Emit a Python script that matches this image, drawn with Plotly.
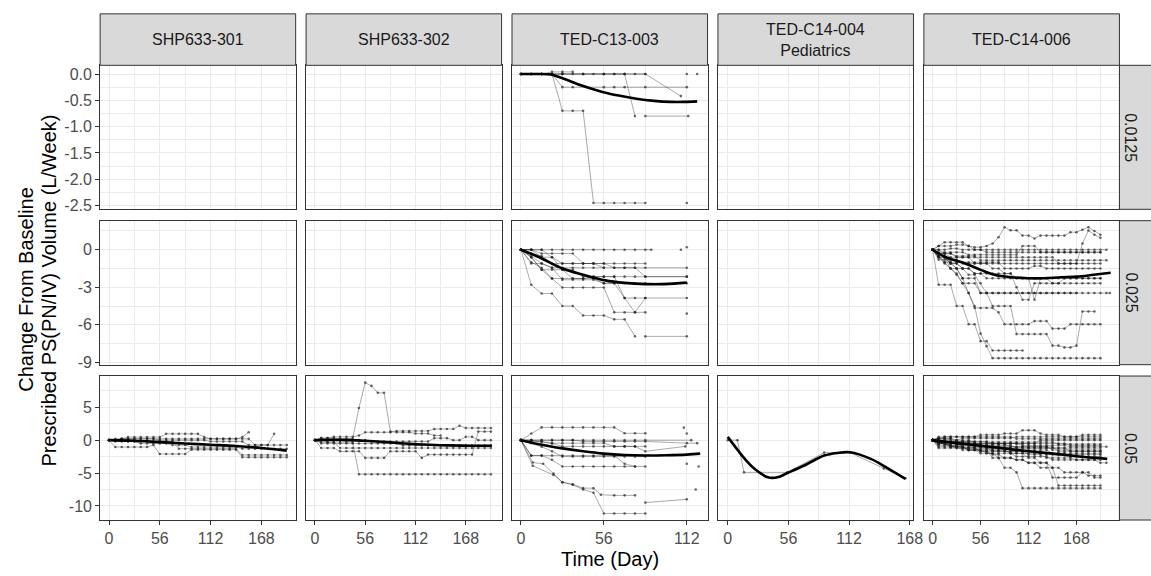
import plotly.graph_objects as go

W, H = 1151, 576

# ---------------- labels / ticks ----------------
STUDIES = ["SHP633-301", "SHP633-302", "TED-C13-003", "TED-C14-004<br>Pediatrics", "TED-C14-006"]
DOSES = ["0.0125", "0.025", "0.05"]
X_TITLE = "Time (Day)"
Y_TITLE_1 = "Change From Baseline"
Y_TITLE_2 = "Prescribed PS(PN/IV) Volume (L/Week)"

X_TICKS = [0, 56, 112, 168]
X_TICK_TEXT = ["0", "56", "112", "168"]
X_MINOR = [28, 84, 140, 196]
Y_TICKS = [[0.0, -0.5, -1.0, -1.5, -2.0, -2.5], [0, -3, -6, -9], [5, 0, -5, -10]]
Y_TICK_TEXT = [["0.0", "-0.5", "-1.0", "-1.5", "-2.0", "-2.5"], ["0", "-3", "-6", "-9"], ["5", "0", "-5", "-10"]]
Y_MINOR = [[-0.25, -0.75, -1.25, -1.75, -2.25], [1.5, -1.5, -4.5, -7.5], [7.5, 2.5, -2.5, -7.5]]

X_RANGES = [[-9.8, 205.8], [-9.9, 207.9], [-6.0, 126.0], [-9.0, 171.4], [-10.2, 218.2]]
Y_RANGES = [[-2.57, 0.165], [-9.18, 2.32], [-12.15, 9.75]]

# visit schedules (days)
WK = [0, 7, 14, 21, 28, 35, 42, 49, 56, 63, 70, 77, 84, 91, 98, 105, 112, 119, 126, 133,
      140, 147, 154, 161, 168, 175, 182, 189, 196]
D84 = [0, 7, 14, 21, 28, 35, 42, 49, 56, 63, 70, 77, 84]

# ---------------- TED-C13-003, 0.0125 ----------------
A_SUBJ = [
    (D84, [0, 0, 0, 0, 0, 0, 0, 0, 0, 0, 0, 0, 0]),
    (D84, [0, 0, 0, 0.04, 0.04, 0.04]),
    ([0, 7, 14, 21, 28, 35, 56, 63, 70, 84, 112], [0, 0, 0, 0, -0.25, -0.25, -0.25, -0.25, -0.25, -0.25, -0.25]),
    (D84, [0, 0, 0, 0, -0.7, -0.7, -0.7, -2.45, -2.45, -2.45, -2.45, -2.45, -2.45]),
    ([112], [-2.45]),
    ([0, 14, 28, 42, 56, 63, 70, 77], [0, 0, 0, 0, 0, 0, 0, -0.8]),
    ([84, 113], [-0.8, -0.8]),
    ([0, 14, 28, 42, 56, 70, 84, 108], [0, 0, 0, 0, 0, 0, 0, -0.42]),
    ([112], [0]),
    ([119], [0]),
]
A_SM_D = [0, 10, 20, 30, 41, 55, 66, 78, 90, 101, 110, 119]
A_SM_V = [0, 0, -0.01, -0.1, -0.22, -0.34, -0.41, -0.47, -0.51, -0.53, -0.53, -0.52]

# ---------------- TED-C13-003, 0.025 ----------------
B_SUBJ = [
    (D84 + [88], [0, 0, 0, 0, 0, 0, 0, 0, 0, 0, 0, 0, 0, 0]),
    (D84 + [112], [0, -1.1, -1.1, -1.44, -1.44, -1.44, -1.44, -1.44, -1.44, -1.44, -1.44, -1.44, -1.44, -1.44]),
    (D84 + [112], [0, -0.6, -1.6, -1.6, -1.6, -2.3, -2.3, -2.15, -2.15, -2.15, -2.15, -2.15, -2.15, -2.15]),
    (D84 + [112], [0, -0.5, -1.1, -1.44, -2.4, -2.4, -2.4, -2.4, -2.68, -2.68, -2.68, -2.68, -2.68, -2.68]),
    (D84 + [112], [0, -0.3, -0.5, -1.1, -1.1, -1.1, -1.1, -1.1, -1.1, -1.44, -1.44, -1.44, -2.15, -2.15]),
    (D84, [0, -2.8, -3.5, -3.5, -4.5, -4.5, -5.25, -5.25, -5.25, -5.56, -5.56, -6.92]),
    ([84, 112], [-6.92, -6.92]),
    (D84, [0, -0.6, -1.6, -2.3, -3.02, -3.02, -3.02, -3.02, -3.02, -5.0, -5.0, -5.0, -3.86]),
    (D84 + [112], [0, -1.0, -1.44, -2.3, -2.3, -2.3, -2.3, -2.3, -2.68, -2.68, -3.86, -3.86, -3.86, -3.86]),
    (D84, [0, 0, 0, -0.6, -1.1, -1.1, -1.1, -1.1, -1.44]),
    (D84, [0, 0, -0.6, -0.6, -1.6, -1.6, -2.15, -2.15, -2.15, -2.15, -3.86, -5.0, -5.0]),
    (D84, [0, 0, -0.3, -0.3, -0.3, -0.3, -1.1, -1.1, -1.1, -1.1, -1.1, -1.1, -1.1]),
    ([108], [0]),
    ([112], [0.2]),
    ([112], [-5.1]),
]
B_SM_D = [0, 12, 28, 42, 57, 70, 84, 97, 112]
B_SM_V = [0, -0.58, -1.5, -2.0, -2.45, -2.65, -2.75, -2.75, -2.63]

# ---------------- TED-C14-006, 0.025 ----------------
C_SUBJ = [
    (WK, [0, 0.3, 0.3, 0.3, 0.4, 0.4, 0.3, 0.2, 0.2, 0.3, 0.5, 1.0, 1.8, 1.55, 1.55, 1.13, 1.13, 0.9, 1.13, 1.13,
          1.13, 1.13, 1.13, 1.4, 1.4, 1.6, 1.8, 1.5, 1.2]),
    (WK, [0, -0.3, -0.3, -0.6, -0.6, -0.6, -0.6, -0.6, -0.6, -0.6, -0.6, -0.6, -0.6, -0.6, -0.6, -0.6, -0.6, -0.6,
          -0.6, -0.6, -0.6, -1.1, -1.1, -1.1, -1.1, 0.5, 1.53, 1.2, 0.95]),
    (WK + [203], [0, 0, 0, 0.1, 0.1, 0, 0, 0, 0, 0, 0, 0, 0, 0, 0, 0, 0, 0, 0, 0, 0, 0, 0, 0, 0, 0, 0, 0, 0, 0]),
    (WK, [0, 0.3, 0.6, 0.6, 0.6, 0.6, 0.3, 0, 0, -0.2, -0.2, -0.2, -0.2, -0.2, -0.2, -0.2, -0.2, -0.2, -0.2, -0.2,
          -0.2, -0.2, -0.2, -0.2, -0.2, -0.2, -0.2, -0.2, -0.2]),
    (WK + [203], [0, -0.3, -0.3, -0.3, -0.5, -0.5, -0.5, -0.5, -0.84, -0.84, -0.84, -0.84, -0.84, -0.84, -0.84,
                  -0.84, -0.84, -0.84, -0.84, -0.84, -0.84, -0.84, -0.84, -0.84, -0.84, -0.84, -0.84, -0.84, -0.84, -0.84]),
    (WK, [0, -0.5, -0.5, -1.0, -1.0, -1.0, -1.0, -1.0, -1.0, -1.0, -1.0, -1.0, -1.5, -1.5, -1.5, -1.5, -1.5, -1.3,
          -1.3, -1.5, -1.5, -1.5, -1.5, -1.5, -1.5, -1.5, -1.5, -1.5, -1.5]),
    (WK, [0, -0.6, -0.6, -1.1, -1.1, -1.5, -1.5, -1.9, -1.9, -1.9, -1.9, -1.9, -1.9, -1.9, -2.28, -2.28, -2.28,
          -2.28, -2.28, -2.28, -2.28, -2.28, -2.28, -2.28, -2.28, -2.28, -2.28, -2.28, -2.28]),
    (WK + [203, 207], [0, -0.5, -1.0, -1.0, -1.5, -1.5, -2.0, -2.0, -2.68, -3.46, -3.46, -3.46, -3.46, -3.46, -3.46,
                       -3.46, -3.46, -3.46, -3.46, -3.46, -3.46, -3.46, -3.46, -3.46, -3.46, -3.46, -3.46, -3.46,
                       -3.46, -3.46, -3.46]),
    (WK, [0, -2.8, -2.8, -2.8, -4.5, -4.5, -5.95, -5.95, -7.3, -7.3, -8.05, -8.05, -8.05, -8.05, -8.05, -8.05]),
    (WK, [0, -0.6, -1.1, -1.5, -1.9, -2.68, -3.46, -4.5, -6.7, -7.7, -8.66, -8.66, -8.66, -8.66, -8.66, -8.66,
          -8.66, -8.66, -8.66, -8.66, -8.66, -8.66, -8.66, -8.66, -8.66, -8.66, -8.66, -8.66, -8.66]),
    (WK, [0, -0.3, -0.6, -1.1, -1.5, -2.28, -3.46, -4.65, -4.65, -4.65, -4.65, -5.0, -5.95, -5.95, -5.95, -5.95,
          -5.95, -5.7, -5.7, -5.7, -6.3, -6.3, -6.3, -5.95, -5.95, -5.95, -5.95, -5.95, -5.95]),
    (WK, [0, -0.5, -1.0, -1.5, -2.0, -2.68, -2.68, -2.68, -3.46, -3.46, -4.5, -4.5, -4.5, -4.5, -6.74, -6.74, -6.74,
          -6.74, -6.74, -6.74, -7.66, -7.66, -7.8, -7.8, -7.66, -4.93, -4.93, -4.93]),
    (WK, [0, -0.3, -0.6, -1.1, -1.1, -1.5, -1.5, -1.9, -1.9, -2.28, -2.28, -2.28, -2.28, -2.28, -2.28, -2.28, -2.28,
          -4.0, -2.28, -2.28, -2.68, -2.68, -2.68, -2.68, -2.68, -2.68, -2.68, -2.68, -2.68]),
    (WK, [0, 0, -0.3, -0.3, -0.6, -0.6, -0.6, -1.1, -1.1, -1.1, -1.5, -1.5, -1.9, -1.9, -3.0, -3.99, -3.99, -2.68,
          -2.68, -2.68, -2.68, -2.68, -2.28, -2.28, -2.28, -2.28, -2.28, -2.28, -2.28]),
    (WK, [0, -0.2, -0.2, -0.2, -0.2, -0.2, -0.4, -0.4, -0.4, -0.4, -0.4, -0.4, -0.4, -0.4, -0.4, 0.3, 0.3, 0.3, -0.2,
          -0.2, -0.2, -0.2, -0.2, -0.2, -0.2, -0.2, -0.2, -0.2, -0.2]),
    (WK, [0, -0.8, -0.8, -0.8, -0.8, -1.1, -1.1, -1.1, -1.1, -1.1, -1.1, -1.1, -1.1, -1.1, -1.1, -1.1, -1.1, -1.1,
          -1.1, -1.1, -1.1, -1.1, -1.1, -1.1, -1.1, -1.1, -1.1, -1.1, -1.1]),
    (WK, [0, -0.6, -0.6, -1.5, -1.5, -2.28, -2.28, -2.28, -3.46, -3.46, -3.46, -3.46, -3.46, -3.46, -3.46, -3.46,
          -3.46, -3.46, -3.46, -3.46, -3.46, -3.46, -3.46, -3.46, -3.46]),
]
C_SM_D = [0, 15, 38, 57, 72, 92, 111, 130, 150, 169, 188, 208]
C_SM_V = [0, -0.58, -1.1, -1.63, -2.0, -2.2, -2.28, -2.28, -2.2, -2.15, -2.0, -1.84]

# ---------------- SHP633-301, 0.05 ----------------
D_SUBJ = [
    (WK, [0, 0, 0.2, 0.46, 0.46, 0.46, 0.46, 0.46, 0.46, 0.96, 0.96, 0.96, 0.96, 0.96, 0.96, 0.46, 0.2, 0.2, 0.2,
          0.2, 0.2, 0.46, 1.2]),
    (WK, [0, 0, 0.2, 0.2, 0.2, 0.2, 0.2, 0.2, 0.2, 0.2, 0.2, 0.2, 0.2, 0.2, 0.2, 0.2, 0.2, 0.2, 0.2, 0.2, 0.2, 0.2,
          0.2, -0.75, -0.75, -0.75, 0.96]),
    (WK, [0, -1.05, -1.05, -1.05, -1.05, -1.05, -1.05, -0.75, -2.1, -2.1, -2.1, -2.1, -2.1, -1.45, -1.45, -1.45,
          -1.45, -1.45, -1.45, -1.45, -1.45, -2.6, -2.6, -2.6, -2.6, -2.6, -2.6, -2.6, -2.6]),
    (WK, [0, -0.2, -0.2, -0.2, -0.2, -0.2, -0.2, -0.2, -0.2, -0.2, -0.2, -1.3, -1.3, -1.3, -1.3, -1.3, -1.3, -1.3,
          -1.3, -1.3, -1.3, -2.25, -2.25, -2.25, -2.25, -2.25, -2.25, -2.25, -2.25]),
    (WK, [0, 0, 0, -0.2, -0.2, -0.5, -0.5, -0.5, -0.5, -0.5, -0.75, -0.75, -0.75, -1.05, -1.05, -1.05, -1.05, -1.05,
          -1.05, -1.05, -1.05, -1.3, -1.3, -1.3, -1.3, -1.3, -1.3, -1.3, -1.3]),
    (WK, [0, 0.2, 0.2, 0.2, 0.2, 0.2, 0.2, 0.2, 0, 0, 0, 0, 0, 0, 0, 0, -0.2, -0.2, -0.2, -0.2, -0.2, -0.2, -0.75,
          -0.75, -0.75, -0.75, -0.75, -0.75, -0.75]),
]
D_SM_D = [0, 28, 56, 84, 112, 140, 168, 196]
D_SM_V = [0, -0.1, -0.3, -0.5, -0.7, -0.9, -1.2, -1.6]

# ---------------- SHP633-302, 0.05 ----------------
E_SUBJ = [
    (WK, [0, 0.3, 0.3, 0.3, 0.2, 0.2, 0.2, 4.9, 8.75, 8.25, 7.2, 7.2, 1.3, 1.2, 1.2, 1.2, 1.0, 1.0, 1.0, 0.7, 0.7]),
    (WK, [0, 0, -0.3, -0.3, -0.3, -0.3, -0.3, -5.18, -5.18, -5.18, -5.18, -5.18, -5.18, -5.18, -5.18, -5.18, -5.18,
          -5.18, -5.18, -5.18, -5.18, -5.18, -5.18, -5.18, -5.18, -5.18, -5.18, -5.18, -5.18]),
    (WK, [0, 0.3, 0.3, 0.5, 0.5, 0.5, 0.5, 0.7, 1.2, 1.2, 1.2, 1.2, 1.2, 1.4, 1.4, 1.4, 1.4, 1.4, 1.4, 1.7, 1.7, 1.7,
          1.7, 2.2, 1.85, 1.85, 1.85, 1.85, 1.85]),
    (WK, [0, -1.2, -1.2, -1.2, -1.7, -1.7, -1.7, -1.7, -2.7, -2.7, -2.7, -2.7, -1.7, -1.7, -1.7, -1.7, -1.7, -2.7,
          -2.2, -2.2, -2.2, -2.2, -2.2, -2.2, -2.2, -2.2, 1.3, 1.3, 1.3]),
    (WK, [0, 0, 0, 0, 0, 0, 0, 0, 0, -0.2, -0.2, -0.2, -0.2, -0.2, -0.2, -0.2, -0.2, -0.2, -0.2, 0.3, 0.3, 0.3, 0, 0,
          0.5, 0.5, 0, 0, 0]),
    (WK, [0, -0.5, -0.5, -0.5, -0.5, -0.5, -0.5, -0.5, -0.5, -0.5, -0.5, -0.5, -0.5, -0.5, -0.8, -0.8, -0.8, -0.8,
          -0.8, -0.8, -0.8, -0.8, -0.8, -0.8, -0.8, -0.8, -0.8, -0.8, -0.8]),
    (WK, [0, -0.3, -0.3, -0.3, -1.2, -1.2, -1.2, -1.2, -1.2, -1.2, -1.2, -1.2, -1.2, -1.2, -1.2, -1.2, -1.2, -1.2,
          -1.2, -1.2, -1.2, -1.2, -1.2, -1.2, -1.2, -1.2, -1.2, -1.2, -1.2]),
]
E_SM_D = [0, 20, 40, 56, 80, 100, 128, 150, 175, 197]
E_SM_V = [0, 0.05, 0, -0.1, -0.3, -0.5, -0.7, -0.8, -0.85, -0.85]

# ---------------- TED-C13-003, 0.05 ----------------
F_SUBJ = [
    (D84, [0, 1.0, 1.94, 1.94, 1.94, 1.94, 1.94, 1.94, 1.94, 1.94, 1.04, 1.04, 1.04]),
    ([110], [1.9]),
    ([112], [1.0]),
    (D84 + [115], [0, 0, 0, 0, 0, 0, 0, 0, 0, 0, 0, 0, 0, 0]),
    (D84 + [111], [0, 0, -0.3, -0.5, -0.95, -0.95, -0.95, -0.95, -0.95, -0.95, -0.95, -0.95, -1.7, -0.95]),
    (D84, [0, -2.35, -2.35, -3.0, -4.0, -4.0, -4.0, -4.0, -4.0, -4.0, -4.0, -4.0, -4.0]),
    (D84, [0, -0.46, -1.0, -1.7, -2.5, -2.5, -2.5, -2.5, -2.5, -2.5, -2.5, -2.5, -2.5]),
    ([112], [-3.6]),
    ([0, 8, 15, 22, 28, 35, 42, 49, 54, 63, 70, 77], [0, -3.4, -3.6, -5.1, -6.4, -6.7, -7.3, -7.3, -8.3, -8.4, -8.4, -8.4]),
    ([0, 8, 22, 28, 35, 42, 49, 56, 63, 70, 77, 84], [0, -3.9, -5.3, -6.4, -6.8, -7.5, -8.0, -11.15, -11.15, -11.15, -11.15, -11.15]),
    ([84, 112], [-9.5, -9.0]),
    ([120], [-4.0]),
    ([118], [-7.5]),
    (D84, [0, -0.2, -0.2, -0.46, -0.46, -0.46, -0.46, -0.46, -0.46, -0.95, -0.95, -0.95, -0.95]),
    (D84 + [112, 119], [0, 0, 0, 0, 0, 0, -0.2, -0.2, -0.2, -0.2, -0.2, -0.2, -0.2, -0.46, -0.46]),
    (D84, [0, -2.35, -2.35, -2.35, -2.35, -2.35, -2.35, -2.35, -2.35, -2.35, -3.6, -4.0]),
]
F_SM_D = [0, 14, 28, 42, 56, 70, 84, 98, 112, 121]
F_SM_V = [0, -0.7, -1.25, -1.7, -2.05, -2.25, -2.33, -2.3, -2.2, -2.05]

# ---------------- TED-C14-004 Pediatrics, 0.05 ----------------
G_SUBJ = [
    ([0, 9, 15, 55, 89, 113, 144, 164], [0, 0, -4.9, -4.9, -1.9, -1.9, -4.3, -5.8]),
]
G_SM_D = [0, 9, 15, 25, 37, 46, 55, 70, 89, 101, 113, 132, 147, 164]
G_SM_V = [0.5, -1.45, -2.7, -4.4, -5.65, -5.65, -5.0, -3.9, -2.35, -1.95, -1.85, -2.85, -4.2, -5.9]

# ---------------- TED-C14-006, 0.05 ----------------
H_SUBJ = [
    (WK, [0, 0.3, 0.5, 0.5, 0.5, 0.5, 0.5, 0.5, 0.8, 0.8, 0.8, 0.8, 1.0, 1.0, 1.0, 1.5, 1.5, 1.5, 1.0, 0.8, 0.8, 0.8,
          0.5, 0.5, 0.5, 0.8, 0.8, 0.8, 0.8]),
    (WK, [0, 0.2, 0.2, 0.0, 0.0, 0.3, 0.3, 0.3, 0.3, 0.3, 0.3, 0.3, 0.3, 0.3, 0.5, 0.5, 0.5, 0.5, 0.5, 0.5, 0.5, 0.5,
          0.5, 0.5, 0.5, 0.5, 0.5, 0.5, 0.5]),
    (WK, [0, -0.3, -0.3, -0.3, -0.3, -0.3, -0.3, -0.5, -0.5, -0.5, -0.5, -0.5, -0.5, -0.5, -0.5, -0.5, -0.5, -0.5, 0,
          0, 0, 0, 0, 0, 0, 0, 0, 0, 0]),
    (WK, [0, -0.5, -0.5, -0.5, -0.5, -1.0, -1.0, -1.0, -1.0, -1.0, -1.0, -1.0, -1.0, -1.0, -1.0, -1.0, -1.0, -1.0,
          -1.0, -1.0, -1.5, -1.5, -1.5, -1.5, -1.5, -1.5, -1.5, -1.5, -1.5]),
    (WK, [0, -1.0, -1.0, -1.0, -1.0, -1.0, -1.5, -1.5, -1.5, -1.5, -1.5, -1.5, -1.5, -2.0, -2.0, -2.0, -2.0, -2.0,
          -2.0, -2.0, -2.0, -2.0, -2.0, -2.5, -2.5, -2.5, -2.5, -2.5, -2.5]),
    (WK + [203], [0, -0.5, -0.5, -1.0, -1.0, -1.0, -1.5, -1.5, -1.5, -2.0, -2.0, -2.0, -2.0, -2.0, -2.5, -2.5, -2.5,
                  -2.5, -2.5, -2.5, -3.0, -3.0, -3.0, -3.0, -3.0, -3.0, -3.0, -3.0, -3.45, -3.45]),
    (WK, [0, 0, 0, -0.3, -0.3, -0.3, -0.3, -0.3, -0.8, -0.8, -0.8, -0.8, -0.8, -0.8, -1.2, -1.2, -1.2, -1.2, -1.2,
          -1.2, -1.2, -1.2, -1.2, -1.2, -1.2, -1.2, -1.2, -1.2, -1.2]),
    (WK, [0, -0.8, -0.8, -0.8, -1.2, -1.2, -1.2, -1.2, -1.2, -1.2, -1.7, -1.7, -1.7, -1.7, -1.7, -1.7, -1.7, -1.7,
          -1.7, -2.2, -2.2, -2.2, -2.2, -2.2, -2.2, -2.2, -2.2, -2.2, -2.2]),
    (WK, [0, -0.3, -0.3, -0.3, -0.6, -0.6, -0.6, -0.6, -0.6, -0.6, -0.6, -0.6, -0.6, -1.0, -1.0, -1.0, -1.0, -1.0,
          -1.0, -1.0, -1.0, -1.7, -1.7, -1.7, -1.7, -1.7, -1.7, -1.7, -1.7]),
    (WK, [0, -0.5, -0.5, -1.0, -1.0, -1.0, -1.5, -1.5, -1.5, -1.5, -2.7, -2.7, -4.2, -4.2, -4.9, -7.3, -7.3, -7.3,
          -7.3, -7.3, -7.3, -7.3, -7.3, -7.3, -7.3, -7.3, -7.3, -7.3, -7.3]),
    (WK, [0, -0.3, -0.3, -0.8, -0.8, -1.2, -1.2, -1.2, -1.7, -1.7, -2.2, -2.2, -2.7, -2.7, -3.0, -3.0, -3.45, -3.45,
          -4.2, -4.2, -4.2, -6.9, -6.9, -6.9, -6.9, -6.9, -6.9, -6.9, -6.9]),
    (WK, [0, -0.5, -0.5, -1.0, -1.0, -1.5, -1.5, -1.5, -2.0, -2.0, -2.0, -2.7, -2.7, -2.7, -3.0, -3.0, -3.45, -3.45,
          -3.45, -3.45, -5.7, -5.7, -5.7, -5.7, -5.7, -4.9, -4.9, -5.7, -5.7]),
    (WK, [0, 0.3, 0.3, 0.3, 0, 0, 0, -0.3, -0.3, -0.3, -0.3, -0.3, -0.3, -0.3, -0.3, -0.3, -0.3, -0.3, -0.3, -0.3,
          -0.3, -0.6, -0.6, -0.6, -0.6, -0.6, -0.6, -0.6, -0.6]),
    (WK, [0, -1.2, -1.2, -1.2, -1.2, -1.2, -1.2, -1.2, -1.7, -1.7, -1.7, -1.7, -1.7, -1.7, -1.7, -1.7, -2.2, -2.2,
          -2.2, -2.7, -2.7, -2.7, -2.7, -2.7, -3.0, -3.0, -3.0, -3.0, -3.0]),
    (WK + [203], [0, -0.2, -0.2, -0.2, -0.2, -0.2, -0.5, -0.5, -0.5, -0.5, -0.5, -0.5, -0.5, -0.5, -0.5, -0.8, -0.8,
                  -0.8, -0.8, -0.8, -0.8, -0.8, -0.8, -1.0, -1.0, -1.0, -1.0, -1.0, -1.0, -1.0]),
    (WK, [0, 0.5, 0.5, 0.5, 0.5, 0.5, 0.5, 0.5, 0.5, 0.5, 0.5, 0.5, 0.5, 0.5, 0.2, 0.2, 0.2, 0.2, 0.2, 0.2, 0.2, 0.2,
          0.2, 0.2, 0.2, 0.2, 0.2, 0.2, 0.2]),
    (WK, [0, -0.6, -0.6, -0.6, -0.6, -0.6, -0.6, -0.6, -0.6, -1.2, -1.2, -1.2, -1.2, -1.2, -1.2, -1.2, -1.2, -1.2,
          -1.2, -1.2, -1.2, -1.2, -1.2, -1.7, -1.7, -1.7, -1.7, -1.7, -1.7]),
    (WK, [0, -0.3, -0.3, -0.3, -0.6, -0.6, -0.6, -1.0, -1.0, -1.0, -1.5, -1.5, -1.5, -2.0, -2.0, -2.0, -2.7, -2.7,
          -3.45, -3.45, -4.2, -4.2, -4.9, -4.9, -4.9, -4.9, -5.4, -5.4, -5.4]),
    (WK, [0, 0.2, 0.2, 0.2, -0.2, -0.2, -0.2, -0.2, -0.2, -0.2, -0.5, -0.5, -0.5, -0.5, -0.5, -0.5, -0.5, -0.5,
          -0.5, -0.5, -0.5, -0.5, -0.5, -0.8, -0.8, -0.8, -0.8, -0.8, -0.8]),
    (WK, [0, -0.4, -0.4, -0.8, -0.8, -0.8, -0.8, -1.2, -1.2, -1.2, -1.2, -1.2, -1.2, -1.5, -1.5, -1.5, -1.5, -1.5,
          -1.5, -1.5, -2.0, -2.0, -2.0, -2.0, -2.0, -2.0, -2.0, -2.0, -2.0]),
]
H_SM_D = [0, 28, 56, 84, 112, 140, 168, 204]
H_SM_V = [0, -0.45, -0.85, -1.25, -1.7, -2.05, -2.45, -2.85]

# (row, col) -> (subjects, smooth days, smooth values)
PANELS = {
    (0, 2): (A_SUBJ, A_SM_D, A_SM_V),
    (1, 2): (B_SUBJ, B_SM_D, B_SM_V),
    (1, 4): (C_SUBJ, C_SM_D, C_SM_V),
    (2, 0): (D_SUBJ, D_SM_D, D_SM_V),
    (2, 1): (E_SUBJ, E_SM_D, E_SM_V),
    (2, 2): (F_SUBJ, F_SM_D, F_SM_V),
    (2, 3): (G_SUBJ, G_SM_D, G_SM_V),
    (2, 4): (H_SUBJ, H_SM_D, H_SM_V),
}

# ---------------- geometry (pixels) ----------------
COL_PX = [(101, 298.25), (308.75, 506), (516.5, 713.75), (724.25, 921.5), (932, 1129.25)]
ROW_PX = [(66, 211.5), (223, 368.5), (380, 525.5)]
STRIP_TOP = (14, 66)
STRIP_RIGHT = (1129.25, 1151)

FONT = "Liberation Sans, Arial, sans-serif"
GRID = "#EBEBEB"
BORDER = "#333333"

fig = go.Figure()
layout = dict(
    width=W, height=H, autosize=False, margin=dict(l=0, r=0, t=0, b=0, pad=0),
    paper_bgcolor="white", plot_bgcolor="white", showlegend=False,
    font=dict(family=FONT, size=16, color="#4D4D4D"),
)


def px_x(v):
    return v / W


def px_y(v):
    return 1 - v / H


for r in range(3):
    for c in range(5):
        k = r * 5 + c + 1
        xs = "" if k == 1 else str(k)
        layout["xaxis" + xs] = dict(
            domain=[px_x(COL_PX[c][0]), px_x(COL_PX[c][1])], anchor="y" + xs,
            range=X_RANGES[c], tickmode="array", tickvals=X_TICKS, ticktext=X_TICK_TEXT,
            showticklabels=(r == 2), ticks="outside" if r == 2 else "", ticklen=4,
            tickcolor=BORDER, tickwidth=1, tickfont=dict(size=16, color="#4D4D4D", family=FONT),
            showgrid=True, gridcolor=GRID, gridwidth=1.1,
            minor=dict(tickmode="array", tickvals=X_MINOR, showgrid=True, gridcolor=GRID, gridwidth=0.6),
            showline=True, mirror=True, linecolor=BORDER, linewidth=1, zeroline=False, fixedrange=True,
        )
        layout["yaxis" + xs] = dict(
            domain=[px_y(ROW_PX[r][1]), px_y(ROW_PX[r][0])], anchor="x" + xs,
            range=Y_RANGES[r], tickmode="array", tickvals=Y_TICKS[r], ticktext=Y_TICK_TEXT[r],
            showticklabels=(c == 0), ticks="outside" if c == 0 else "", ticklen=4,
            tickcolor=BORDER, tickwidth=1, tickfont=dict(size=16, color="#4D4D4D", family=FONT),
            showgrid=True, gridcolor=GRID, gridwidth=1.1,
            minor=dict(tickmode="array", tickvals=Y_MINOR[r], showgrid=True, gridcolor=GRID, gridwidth=0.6),
            showline=True, mirror=True, linecolor=BORDER, linewidth=1, zeroline=False, fixedrange=True,
        )

        if (r, c) in PANELS:
            subjects, sm_d, sm_v = PANELS[(r, c)]
            xx, yy = [], []
            for days, vals in subjects:
                for d, v in zip(days, vals):
                    xx.append(d)
                    yy.append(v)
                xx.append(None)
                yy.append(None)
            fig.add_trace(go.Scatter(
                x=xx, y=yy, mode="lines+markers", xaxis="x" + xs, yaxis="y" + xs,
                line=dict(color="rgba(0,0,0,0.42)", width=0.8),
                marker=dict(color="rgba(30,30,30,0.65)", size=2.6),
                connectgaps=False, hoverinfo="skip",
            ))
            fig.add_trace(go.Scatter(
                x=sm_d, y=sm_v, mode="lines", xaxis="x" + xs, yaxis="y" + xs,
                line=dict(color="black", width=2.6, shape="spline", smoothing=1.0),
                hoverinfo="skip",
            ))
        else:
            # empty facet: keep the panel (grid, border, ticks) drawn
            fig.add_trace(go.Scatter(x=[None], y=[None], mode="markers", xaxis="x" + xs, yaxis="y" + xs,
                                     hoverinfo="skip"))

shapes = []
annotations = []
# top strips
for c in range(5):
    shapes.append(dict(type="rect", xref="paper", yref="paper",
                       x0=px_x(COL_PX[c][0]), x1=px_x(COL_PX[c][1]),
                       y0=px_y(STRIP_TOP[1]), y1=px_y(STRIP_TOP[0]),
                       fillcolor="#D9D9D9", line=dict(color=BORDER, width=1), layer="above"))
    annotations.append(dict(xref="paper", yref="paper",
                            x=px_x((COL_PX[c][0] + COL_PX[c][1]) / 2),
                            y=px_y((STRIP_TOP[0] + STRIP_TOP[1]) / 2),
                            text=STUDIES[c], showarrow=False, xanchor="center", yanchor="middle",
                            font=dict(size=16, color="#1A1A1A", family=FONT)))
# right strips
for r in range(3):
    shapes.append(dict(type="rect", xref="paper", yref="paper",
                       x0=px_x(STRIP_RIGHT[0]), x1=px_x(STRIP_RIGHT[1]) + 0.01,
                       y0=px_y(ROW_PX[r][1]), y1=px_y(ROW_PX[r][0]),
                       fillcolor="#D9D9D9", line=dict(color=BORDER, width=1), layer="above"))
    annotations.append(dict(xref="paper", yref="paper",
                            x=px_x(1141), y=px_y((ROW_PX[r][0] + ROW_PX[r][1]) / 2),
                            text=DOSES[r], showarrow=False, textangle=90,
                            xanchor="center", yanchor="middle",
                            font=dict(size=16, color="#1A1A1A", family=FONT)))
# axis titles
annotations.append(dict(xref="paper", yref="paper", x=px_x(615), y=px_y(565), text=X_TITLE,
                        showarrow=False, xanchor="center", yanchor="middle",
                        font=dict(size=20, color="black", family=FONT)))
annotations.append(dict(xref="paper", yref="paper", x=px_x(26), y=px_y(292), text=Y_TITLE_1,
                        showarrow=False, textangle=-90, xanchor="center", yanchor="middle",
                        font=dict(size=20, color="black", family=FONT)))
annotations.append(dict(xref="paper", yref="paper", x=px_x(49), y=px_y(294), text=Y_TITLE_2,
                        showarrow=False, textangle=-90, xanchor="center", yanchor="middle",
                        font=dict(size=20, color="black", family=FONT)))

layout["shapes"] = shapes
layout["annotations"] = annotations
fig.update_layout(**layout)

fig.write_html(
    "out.html",
    config={"displayModeBar": False},
    post_script="document.body.style.margin='0';document.body.style.overflow='hidden';",
)
